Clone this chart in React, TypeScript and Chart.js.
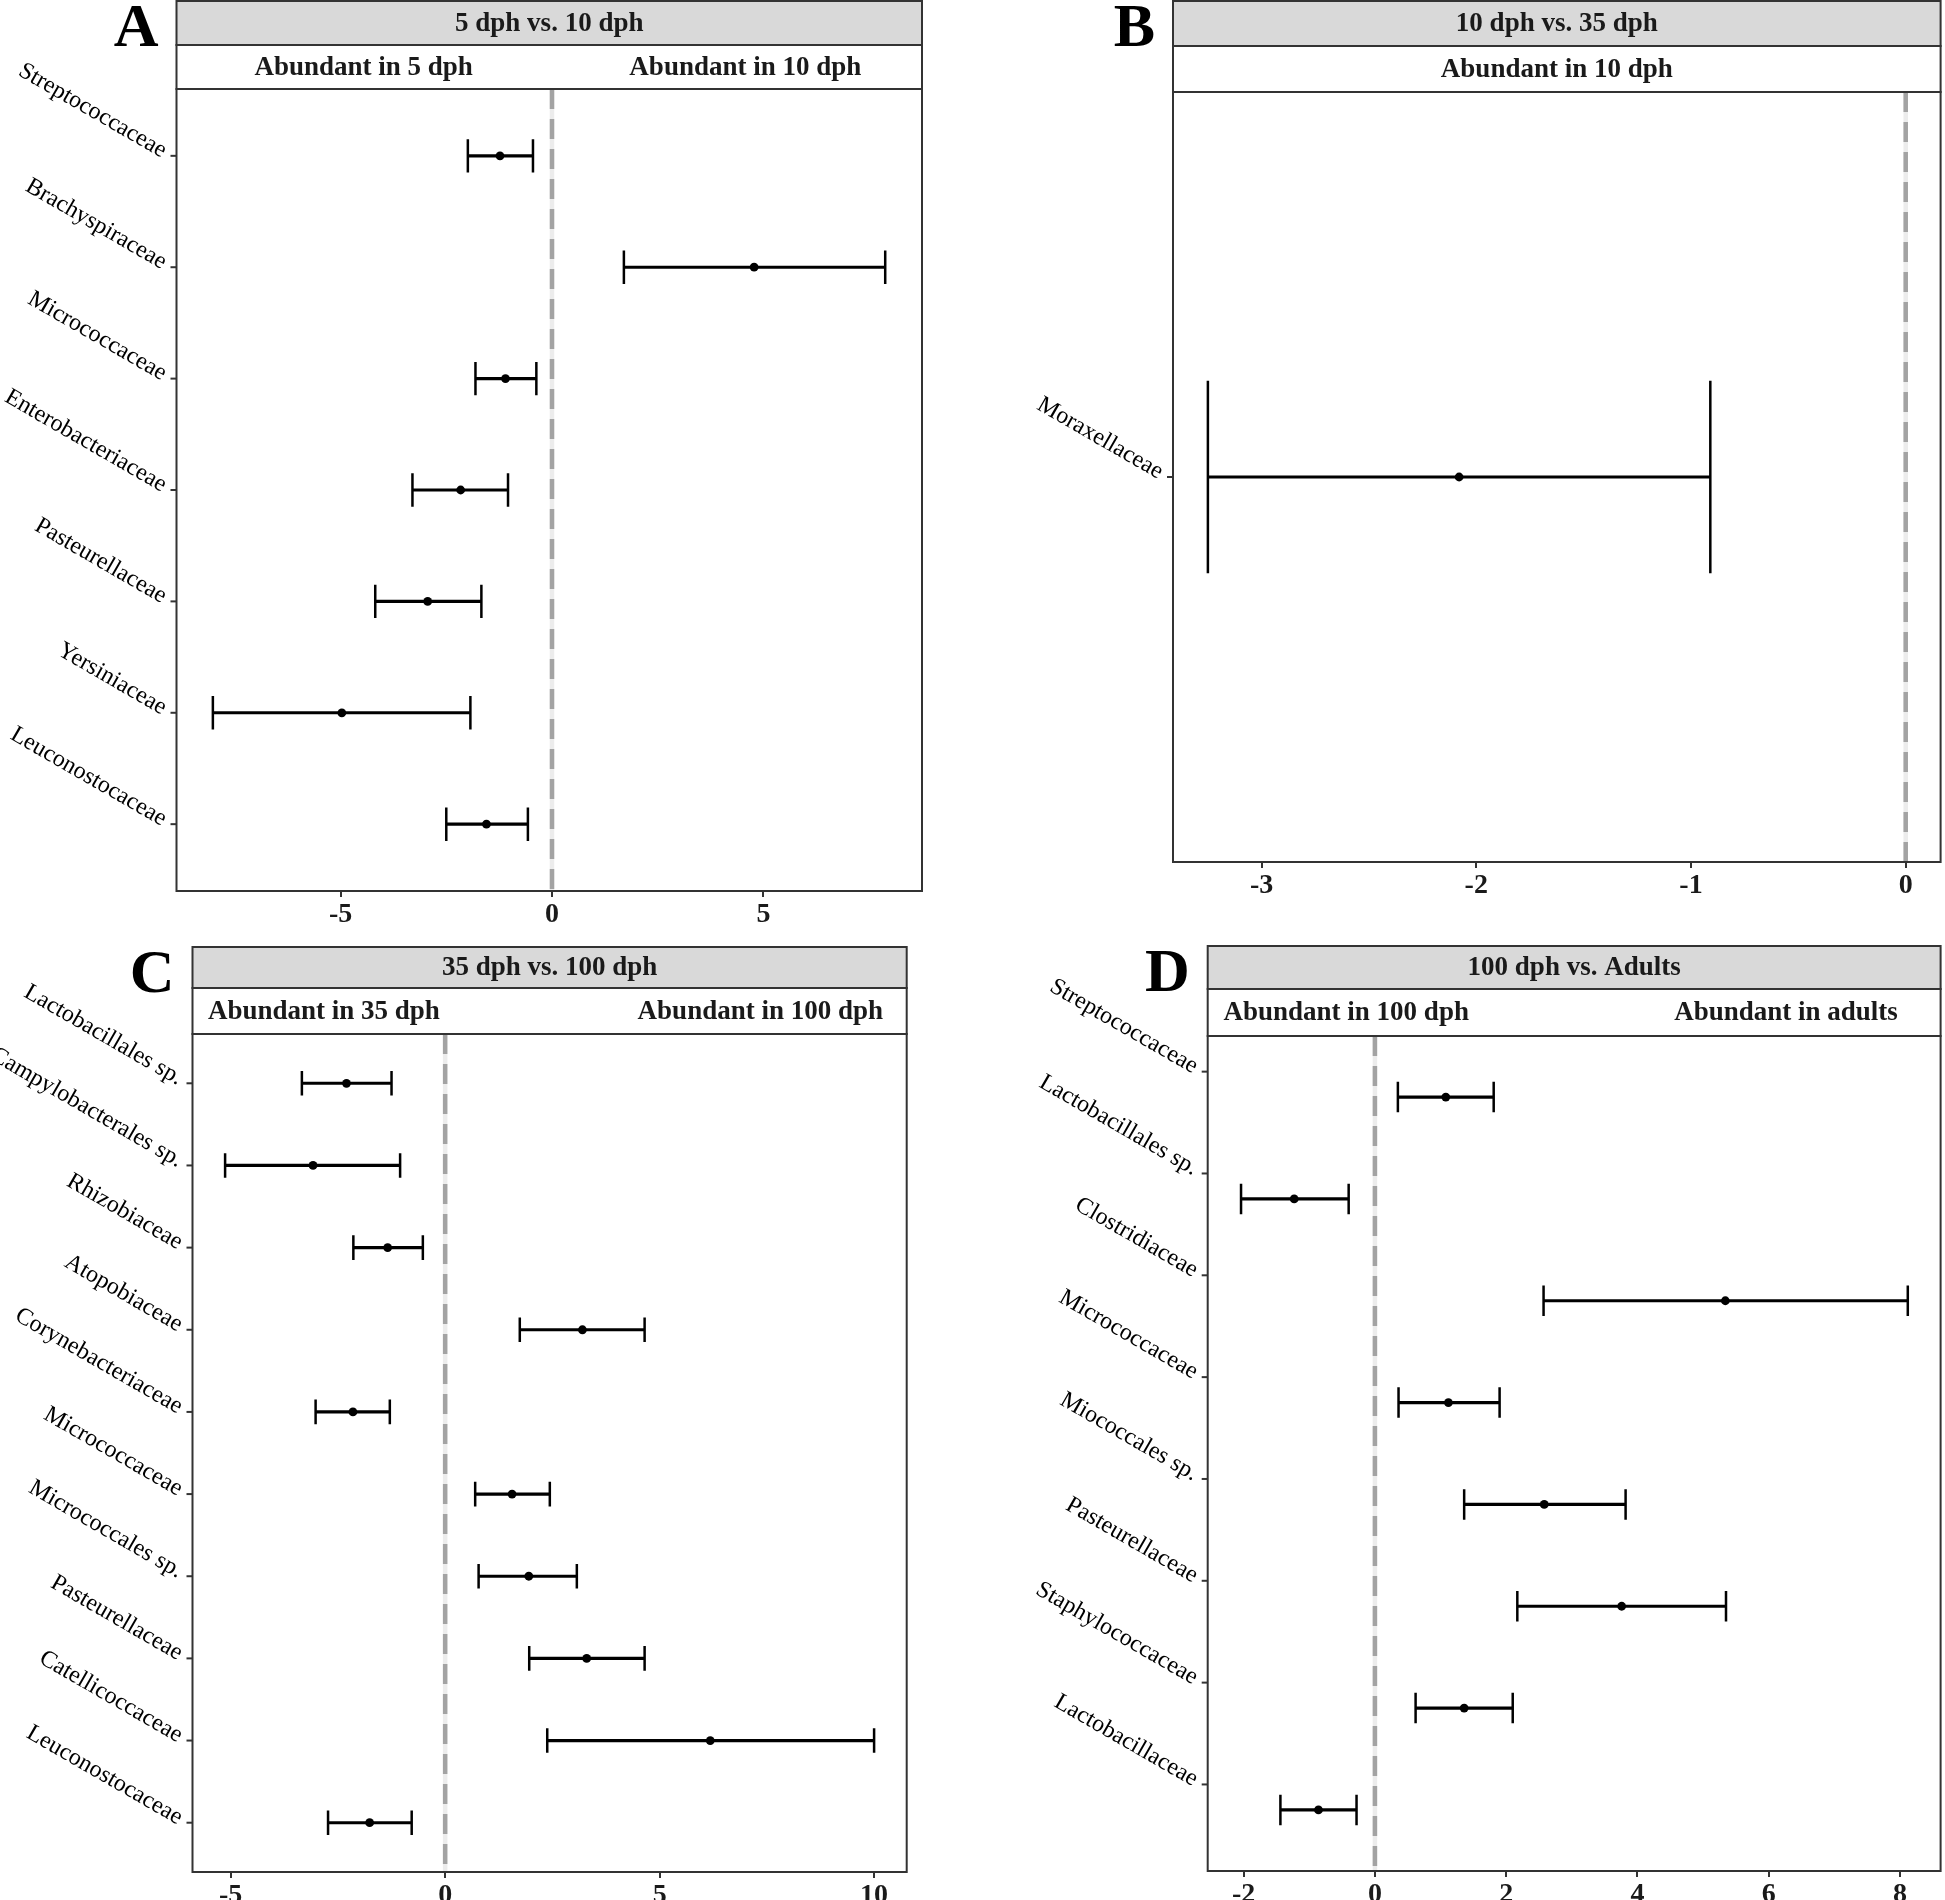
import React, { useEffect, useRef } from 'react';
import { Chart, registerables } from 'chart.js';

Chart.register(...registerables);

const FONT = '"Liberation Serif", "Times New Roman", serif';

// ---------- Panel A ----------
const A_TITLE = '5 dph vs. 10 dph';
const A_SUBS = ['Abundant in 5 dph', 'Abundant in 10 dph'];
const A_CATS = ['Streptococcaceae', 'Brachyspiraceae', 'Micrococcaceae', 'Enterobacteriaceae', 'Pasteurellaceae', 'Yersiniaceae', 'Leuconostocaceae'];
const A_MEAN = [-1.23, 4.78, -1.10, -2.16, -2.94, -4.97, -1.55];
const A_LO = [-1.99, 1.70, -1.81, -3.30, -4.18, -8.02, -2.50];
const A_HI = [-0.45, 7.88, -0.37, -1.04, -1.67, -1.93, -0.57];
const A_XTICKS = [-5, 0, 5];

// ---------- Panel B ----------
const B_TITLE = '10 dph vs. 35 dph';
const B_SUBS = ['Abundant in 10 dph'];
const B_CATS = ['Moraxellaceae'];
const B_MEAN = [-2.08];
const B_LO = [-3.25];
const B_HI = [-0.91];
const B_XTICKS = [-3, -2, -1, 0];

// ---------- Panel C ----------
const C_TITLE = '35 dph vs. 100 dph';
const C_SUBS = ['Abundant in 35 dph', 'Abundant in 100 dph'];
const C_CATS = ['Lactobacillales sp.', 'Campylobacterales sp.', 'Rhizobiaceae', 'Atopobiaceae', 'Corynebacteriaceae', 'Micrococcaceae', 'Micrococcales sp.', 'Pasteurellaceae', 'Catellicoccaceae', 'Leuconostocaceae'];
const C_MEAN = [-2.30, -3.08, -1.34, 3.20, -2.15, 1.56, 1.95, 3.30, 6.18, -1.76];
const C_LO = [-3.34, -5.13, -2.14, 1.74, -3.02, 0.70, 0.78, 1.96, 2.38, -2.73];
const C_HI = [-1.25, -1.05, -0.52, 4.65, -1.29, 2.44, 3.07, 4.65, 10.0, -0.78];
const C_XTICKS = [-5, 0, 5, 10];

// ---------- Panel D ----------
const D_TITLE = '100 dph vs. Adults';
const D_SUBS = ['Abundant in 100 dph', 'Abundant in adults'];
const D_CATS = ['Streptococcaceae', 'Lactobacillales sp.', 'Clostridiaceae', 'Micrococcaceae', 'Miococcales sp.', 'Pasteurellaceae', 'Staphylococcaceae', 'Lactobacillaceae'];
const D_MEAN = [1.08, -1.23, 5.34, 1.12, 2.58, 3.76, 1.36, -0.86];
const D_LO = [0.35, -2.04, 2.57, 0.36, 1.36, 2.17, 0.62, -1.44];
const D_HI = [1.81, -0.40, 8.12, 1.90, 3.82, 5.35, 2.10, -0.28];
const D_XTICKS = [-2, 0, 2, 4, 6, 8];

const CAP_HALF = 0.15; // error bar cap half-height in category units

type PanelCfg = {
  letter: string; title: string; subs: string[]; subFrac: number[];
  cats: string[]; mean: number[]; lo: number[]; hi: number[]; xticks: number[];
  xMin: number; xMax: number; tickShift: number;
  left: number; top: number; width: number; height: number;
  plotL: number; plotT: number; plotR: number; plotB: number;
  s1: number; s2: number;
};

const PANELS: PanelCfg[] = [
  {
    letter: 'A', title: A_TITLE, subs: A_SUBS, subFrac: [0.251, 0.763],
    cats: A_CATS, mean: A_MEAN, lo: A_LO, hi: A_HI, xticks: A_XTICKS,
    xMin: -8.88, xMax: 8.75, tickShift: 0,
    left: 0, top: 0, width: 960, height: 940,
    plotL: 176.5, plotT: 89, plotR: 922, plotB: 891, s1: 1, s2: 45,
  },
  {
    letter: 'B', title: B_TITLE, subs: B_SUBS, subFrac: [0.5],
    cats: B_CATS, mean: B_MEAN, lo: B_LO, hi: B_HI, xticks: B_XTICKS,
    xMin: -3.4125, xMax: 0.1625, tickShift: 0,
    left: 960, top: 0, width: 985, height: 940,
    plotL: 1173, plotT: 92, plotR: 1941, plotB: 862, s1: 1, s2: 46,
  },
  {
    letter: 'C', title: C_TITLE, subs: C_SUBS, subFrac: [0.184, 0.795],
    cats: C_CATS, mean: C_MEAN, lo: C_LO, hi: C_HI, xticks: C_XTICKS,
    xMin: -5.89, xMax: 10.76, tickShift: 0,
    left: 0, top: 940, width: 960, height: 960,
    plotL: 192.5, plotT: 1034, plotR: 906.7, plotB: 1872, s1: 947, s2: 988,
  },
  {
    letter: 'D', title: D_TITLE, subs: D_SUBS, subFrac: [0.189, 0.789],
    cats: D_CATS, mean: D_MEAN, lo: D_LO, hi: D_HI, xticks: D_XTICKS,
    xMin: -2.548, xMax: 8.62, tickShift: -0.25,
    left: 960, top: 940, width: 985, height: 960,
    plotL: 1207.7, plotT: 1036, plotR: 1942, plotB: 1871, s1: 946, s2: 989,
  },
];

const panelPlugin = {
  id: 'panelDecor',
  beforeDatasetsDraw(chart: any) {
    const { ctx, chartArea: ca } = chart;
    const x0 = chart.scales.x.getPixelForValue(0);
    ctx.save();
    ctx.strokeStyle = '#ececec';
    ctx.lineWidth = 4.5;
    ctx.beginPath();
    ctx.moveTo(x0, ca.top);
    ctx.lineTo(x0, ca.bottom);
    ctx.stroke();
    ctx.strokeStyle = '#a3a3a3';
    ctx.setLineDash([20, 10]);
    ctx.beginPath();
    ctx.moveTo(x0, ca.top);
    ctx.lineTo(x0, ca.bottom);
    ctx.stroke();
    ctx.restore();
  },
  afterDraw(chart: any, _args: any, opts: any) {
    const p: PanelCfg = opts.cfg;
    const { ctx, chartArea: ca } = chart;
    const w = ca.right - ca.left;
    const s1 = p.s1 - p.top;
    const s2 = p.s2 - p.top;
    ctx.save();
    // panel border
    ctx.strokeStyle = '#333';
    ctx.lineWidth = 2;
    ctx.strokeRect(ca.left, ca.top, w, ca.bottom - ca.top);
    // strips
    ctx.fillStyle = '#d9d9d9';
    ctx.fillRect(ca.left, s1, w, s2 - s1);
    ctx.strokeRect(ca.left, s1, w, s2 - s1);
    ctx.fillStyle = '#ffffff';
    ctx.fillRect(ca.left, s2, w, ca.top - s2);
    ctx.strokeRect(ca.left, s2, w, ca.top - s2);
    ctx.fillStyle = '#1a1a1a';
    ctx.font = `bold 27px ${FONT}`;
    ctx.textAlign = 'center';
    ctx.textBaseline = 'middle';
    ctx.fillText(p.title, (ca.left + ca.right) / 2, (s1 + s2) / 2 + 1);
    p.subs.forEach((s, i) => {
      ctx.fillText(s, ca.left + w * p.subFrac[i], (s2 + ca.top) / 2 + 1);
    });
    // panel letter
    ctx.fillStyle = '#000';
    ctx.font = `bold 62px ${FONT}`;
    ctx.textAlign = 'right';
    ctx.textBaseline = 'alphabetic';
    ctx.fillText(p.letter, ca.left - 18, s1 + 45);
    // y ticks + labels
    const ys = chart.scales.y;
    ctx.font = `24px ${FONT}`;
    p.cats.forEach((c, i) => {
      const y = ys.getPixelForValue(i + p.tickShift);
      ctx.strokeStyle = '#333';
      ctx.lineWidth = 2;
      ctx.beginPath();
      ctx.moveTo(ca.left - 6, y);
      ctx.lineTo(ca.left, y);
      ctx.stroke();
      ctx.save();
      ctx.translate(ca.left - 15, y + 2);
      ctx.rotate(Math.PI / 6);
      ctx.fillStyle = '#000';
      ctx.textAlign = 'right';
      ctx.textBaseline = 'alphabetic';
      ctx.fillText(c, 0, 0);
      ctx.restore();
    });
    ctx.restore();
  },
};

function capRadius(ctx: any) {
  const y = ctx.chart.scales.y;
  return Math.abs(y.getPixelForValue(CAP_HALF) - y.getPixelForValue(0));
}

function makeChart(canvas: HTMLCanvasElement, p: PanelCfg) {
  const n = p.cats.length;
  const yW = p.plotL - p.left;
  const xH = p.top + p.height - p.plotB;
  const padTop = p.plotT - p.top;
  const padRight = p.left + p.width - p.plotR;
  const capStyle = {
    type: 'scatter' as const,
    pointStyle: 'line',
    pointRotation: 90,
    pointRadius: capRadius,
    pointBorderColor: '#000',
    pointBorderWidth: 2.5,
    pointBackgroundColor: '#000',
  };
  return new Chart(canvas, {
    type: 'scatter',
    data: {
      datasets: [
        {
          type: 'bar',
          indexAxis: 'y',
          data: p.cats.map((_c, i) => ({ y: i, x: [p.lo[i], p.hi[i]] })),
          backgroundColor: '#000',
          borderWidth: 0,
          barThickness: 2.5,
        } as any,
        { ...capStyle, data: p.cats.map((_c, i) => ({ x: p.lo[i], y: i })) } as any,
        { ...capStyle, data: p.cats.map((_c, i) => ({ x: p.hi[i], y: i })) } as any,
        {
          type: 'scatter',
          data: p.cats.map((_c, i) => ({ x: p.mean[i], y: i })),
          pointRadius: 4.4,
          pointBackgroundColor: '#000',
          pointBorderWidth: 0,
        } as any,
      ],
    },
    options: {
      responsive: false,
      animation: false,
      events: [],
      layout: { padding: { top: padTop, right: padRight, left: 0, bottom: 0 } },
      plugins: {
        legend: { display: false },
        tooltip: { enabled: false },
        panelDecor: { cfg: p },
      } as any,
      scales: {
        x: {
          type: 'linear',
          min: p.xMin,
          max: p.xMax,
          afterBuildTicks: (s: any) => { s.ticks = p.xticks.map((v) => ({ value: v })); },
          afterFit: (s: any) => { s.height = xH; },
          grid: { drawOnChartArea: false, drawTicks: true, tickLength: 6, color: '#333', lineWidth: 2 },
          border: { display: false },
          ticks: {
            font: { family: FONT, size: 28, weight: 'bold' },
            color: '#1a1a1a',
            padding: 1,
            maxRotation: 0,
            minRotation: 0,
            autoSkip: false,
          },
        },
        y: {
          type: 'linear',
          reverse: true,
          min: -0.6,
          max: n - 1 + 0.6,
          offset: false,
          afterFit: (s: any) => { s.width = yW; },
          grid: { display: false, offset: false },
          border: { display: false },
          ticks: { display: false },
        },
      } as any,
    },
    plugins: [panelPlugin],
  } as any);
}

function Panel({ cfg }: { cfg: PanelCfg }) {
  const ref = useRef<HTMLCanvasElement>(null);
  useEffect(() => {
    const ch = makeChart(ref.current as HTMLCanvasElement, cfg);
    return () => ch.destroy();
  }, [cfg]);
  return (
    <canvas
      ref={ref}
      width={cfg.width}
      height={cfg.height}
      style={{ position: 'absolute', left: cfg.left, top: cfg.top, width: cfg.width, height: cfg.height }}
    />
  );
}

export default function App() {
  return (
    <div style={{ position: 'absolute', left: 0, top: 0, width: 1945, height: 1900, background: '#fff', overflow: 'hidden' }}>
      {PANELS.map((p) => (
        <Panel key={p.letter} cfg={p} />
      ))}
    </div>
  );
}
